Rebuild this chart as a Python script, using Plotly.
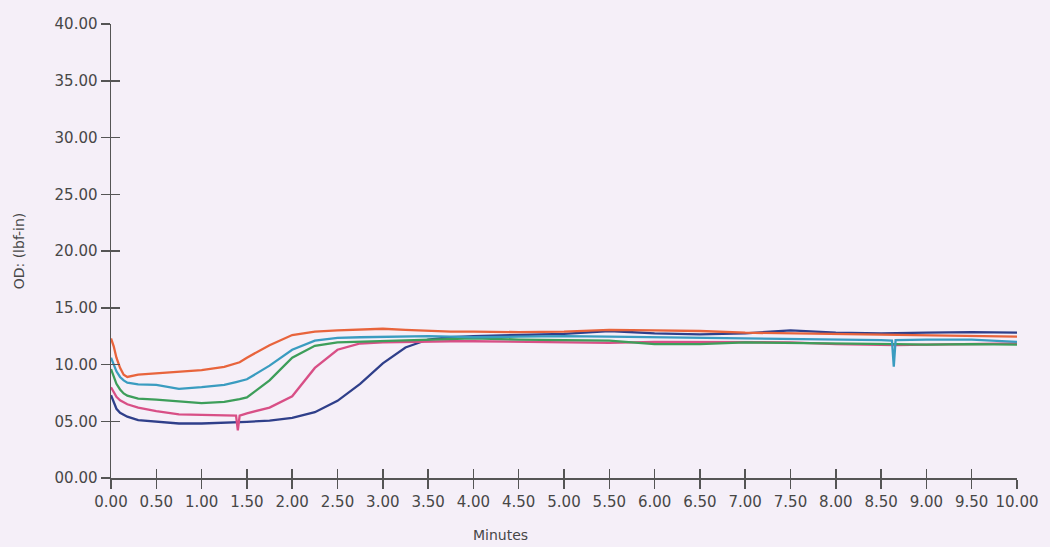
import plotly.graph_objects as go

minutes = [0.00, 0.03, 0.06, 0.10, 0.14, 0.18, 0.30, 0.50, 0.75, 1.00, 1.25, 1.38, 1.40, 1.42, 1.50,
           1.75, 2.00, 2.25, 2.50, 2.75, 3.00, 3.25, 3.50, 3.75, 4.00, 4.50, 5.00, 5.50,
           6.00, 6.50, 7.00, 7.50, 8.00, 8.50, 8.62, 8.64, 8.66, 9.00, 9.50, 10.00]

red = [12.3, 11.6, 10.6, 9.7, 9.1, 8.9, 9.1, 9.2, 9.35, 9.5, 9.8, 10.1, 10.15, 10.2, 10.6,
       11.7, 12.6, 12.9, 13.0, 13.05, 13.15, 13.05, 12.95, 12.9, 12.9, 12.85, 12.9, 13.05,
       13.0, 12.95, 12.8, 12.75, 12.7, 12.6, 12.6, 12.6, 12.6, 12.55, 12.5, 12.45]

cyan = [10.6, 10.0, 9.4, 8.9, 8.6, 8.4, 8.25, 8.2, 7.85, 8.0, 8.2, 8.45, 8.5, 8.55, 8.7,
        9.9, 11.3, 12.1, 12.35, 12.4, 12.45, 12.45, 12.5, 12.45, 12.4, 12.45, 12.5, 12.45,
        12.4, 12.4, 12.35, 12.3, 12.2, 12.15, 12.1, 9.8, 12.15, 12.2, 12.2, 12.0]

green = [9.6, 8.9, 8.3, 7.8, 7.45, 7.25, 7.0, 6.9, 6.75, 6.6, 6.7, 6.85, 6.9, 6.95, 7.1,
         8.6, 10.6, 11.65, 11.95, 12.0, 12.05, 12.1, 12.2, 12.25, 12.3, 12.2, 12.15, 12.1,
         11.8, 11.8, 11.95, 11.9, 11.8, 11.8, 11.8, 11.8, 11.8, 11.75, 11.8, 11.75]

pink = [8.0, 7.5, 7.15, 6.85, 6.65, 6.5, 6.2, 5.9, 5.6, 5.55, 5.5, 5.5, 4.2, 5.5, 5.7,
        6.2, 7.2, 9.7, 11.3, 11.85, 11.95, 12.0, 12.05, 12.05, 12.05, 12.0, 11.95, 11.9,
        12.0, 12.0, 12.0, 11.95, 11.8, 11.7, 11.7, 11.7, 11.7, 11.75, 11.8, 11.85]

navy = [7.3, 6.6, 6.1, 5.75, 5.55, 5.4, 5.1, 4.95, 4.8, 4.8, 4.85, 4.9, 4.9, 4.9, 4.95,
        5.05, 5.3, 5.8, 6.8, 8.3, 10.1, 11.5, 12.2, 12.4, 12.5, 12.6, 12.7, 12.95,
        12.75, 12.65, 12.75, 13.0, 12.8, 12.75, 12.75, 12.75, 12.75, 12.8, 12.85, 12.8]

x_ticks = [0.0, 0.5, 1.0, 1.5, 2.0, 2.5, 3.0, 3.5, 4.0, 4.5, 5.0, 5.5, 6.0, 6.5, 7.0,
           7.5, 8.0, 8.5, 9.0, 9.5, 10.0]
y_ticks = [0, 5, 10, 15, 20, 25, 30, 35, 40]

series = [
    ("navy", navy, "#2f3f8a"),
    ("pink", pink, "#d84f86"),
    ("green", green, "#3d9e5a"),
    ("cyan", cyan, "#3a9cc0"),
    ("red", red, "#e8643c"),
]

bg = "#f5eff8"
axis_col = "#555555"
text_col = "#474747"
font_fam = "DejaVu Sans, Verdana, sans-serif"

fig = go.Figure()
for name, vals, col in series:
    fig.add_trace(go.Scatter(x=minutes, y=vals, mode="lines", name=name,
                             line=dict(color=col, width=2.3), showlegend=False,
                             hoverinfo="skip"))

# invisible trace on the overlay axes (inward tick marks -> crossing ticks)
fig.add_trace(go.Scatter(x=[x_ticks[0]], y=[y_ticks[0]], xaxis="x2", yaxis="y2",
                         mode="markers", marker=dict(opacity=0), showlegend=False,
                         hoverinfo="skip"))

common = dict(showgrid=False, zeroline=False, showline=True, linecolor=axis_col,
              linewidth=1.5, tickcolor=axis_col, tickwidth=1.5, ticklen=9)

fig.update_layout(
    width=1050, height=547,
    paper_bgcolor=bg, plot_bgcolor=bg,
    margin=dict(l=111, r=30, t=24, b=69),
    font=dict(family=font_fam, color=text_col, size=15),
    xaxis=dict(range=[0, 10], tickvals=x_ticks, tickformat=".2f", ticks="outside",
               tickfont=dict(size=15, color=text_col), **common),
    yaxis=dict(range=[0, 40], tickvals=y_ticks, tickformat="05.2f", ticks="outside",
               tickfont=dict(size=15, color=text_col),
               title=dict(text="OD: (lbf-in)", font=dict(size=14, color=text_col),
                          standoff=26), **common),
    xaxis2=dict(range=[0, 10], tickvals=x_ticks, ticks="inside", overlaying="x",
                anchor="y2", side="bottom", showticklabels=False, **common),
    yaxis2=dict(range=[0, 40], tickvals=y_ticks, ticks="inside", overlaying="y",
                anchor="x2", side="left", showticklabels=False, **common),
    annotations=[dict(text="Minutes", x=4.3, xref="x", y=0, yref="paper",
                      yanchor="middle", yshift=-57, showarrow=False,
                      font=dict(size=14, color=text_col))],
)

fig.write_html("out.html",
               config={"displayModeBar": False, "staticPlot": True},
               post_script="document.body.style.margin='0';"
                           "document.body.style.background='" + bg + "';")
